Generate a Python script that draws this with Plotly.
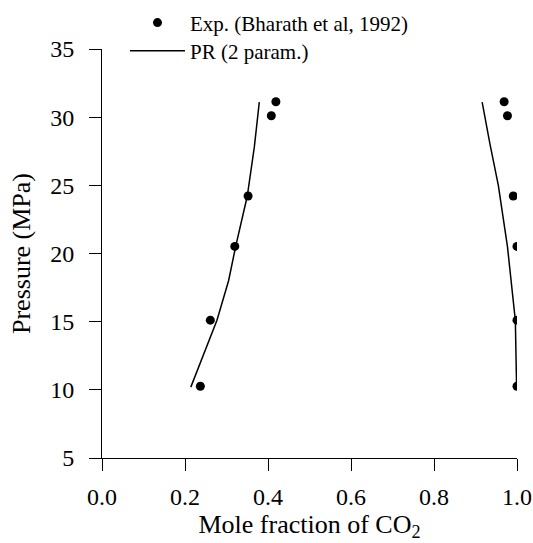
import plotly.graph_objects as go

# Experimental data (Bharath et al, 1992)
pressure_exp = [10.26, 15.11, 20.52, 24.22, 30.10, 31.13]
x_liquid_exp = [0.237, 0.261, 0.320, 0.352, 0.408, 0.419]
x_vapor_exp = [1.000, 1.000, 1.000, 0.991, 0.977, 0.969]

# PR (2 param.) model curves
pr_liq_p = [10.2, 15.1, 18.0, 20.5, 24.2, 27.8, 31.1]
pr_liq_x = [0.214, 0.277, 0.305, 0.322, 0.350, 0.367, 0.379]
pr_vap_p = [10.2, 15.1, 20.5, 25.0, 28.0, 31.1]
pr_vap_x = [0.999, 0.996, 0.977, 0.955, 0.935, 0.916]

x_ticks = [0.0, 0.2, 0.4, 0.6, 0.8, 1.0]
x_ticklabels = ["0.0", "0.2", "0.4", "0.6", "0.8", "1.0"]
y_ticks = [5, 10, 15, 20, 25, 30, 35]

FONT = "Liberation Serif, Times New Roman, serif"

fig = go.Figure()
fig.add_trace(go.Scatter(
    x=x_liquid_exp + [None] + x_vapor_exp,
    y=pressure_exp + [None] + pressure_exp,
    mode="markers",
    marker=dict(color="black", size=9),
    name="Exp. (Bharath et al, 1992)",
    legend="legend",
))
fig.add_trace(go.Scatter(
    x=pr_liq_x + [None] + pr_vap_x,
    y=pr_liq_p + [None] + pr_vap_p,
    mode="lines",
    line=dict(color="black", width=1.5),
    name="PR (2 param.)",
    legend="legend2",
))

legend_style = dict(
    xanchor="left", yanchor="middle",
    font=dict(family=FONT, size=21, color="black"),
    bgcolor="rgba(0,0,0,0)", itemwidth=55, tracegroupgap=0,
)

fig.update_layout(
    width=533, height=543,
    margin=dict(l=102, r=16, t=49, b=85, autoexpand=False),
    paper_bgcolor="white", plot_bgcolor="white",
    font=dict(family=FONT, color="black", size=24),
    showlegend=True,
    legend=dict(x=0.0554, y=1.0637, **legend_style),
    legend2=dict(x=0.0554, y=0.9951, **legend_style),
    xaxis=dict(
        range=[0, 1.0], tickvals=x_ticks, ticktext=x_ticklabels,
        showline=True, linecolor="black", linewidth=1,
        ticks="outside", ticklen=12, tickcolor="black", tickwidth=1,
        ticklabelstandoff=5,
        showgrid=False, zeroline=False,
        tickfont=dict(family=FONT, size=24),
        title=dict(text="Mole fraction of CO<sub>2</sub>", font=dict(family=FONT, size=26), standoff=3),
    ),
    yaxis=dict(
        range=[5, 35], tickvals=y_ticks,
        showline=True, linecolor="black", linewidth=1,
        ticks="outside", ticklen=12, tickcolor="black", tickwidth=1,
        ticklabelstandoff=10,
        showgrid=False, zeroline=False,
        tickfont=dict(family=FONT, size=24),
        title=dict(text="Pressure (MPa)", font=dict(family=FONT, size=26), standoff=12),
    ),
)

# remove the default page margin so the 533x543 figure fills the window exactly
fig.write_html(
    "out.html",
    config={"displayModeBar": False},
    post_script="document.body.style.margin='0px';document.body.style.overflow='hidden';",
)
